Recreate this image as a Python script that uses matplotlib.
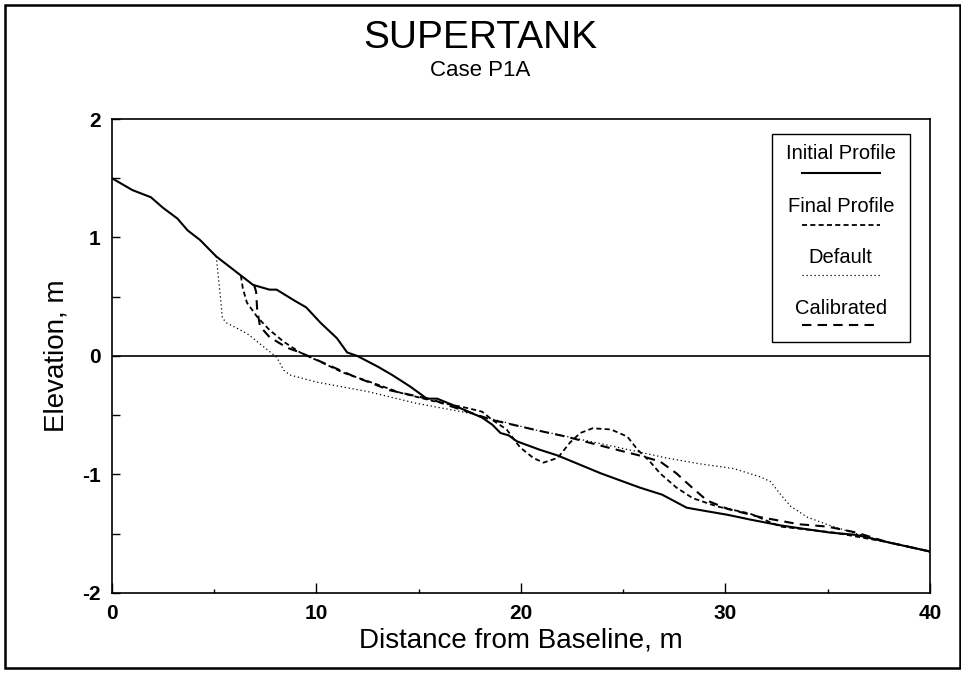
import matplotlib
matplotlib.use("Agg")
import matplotlib.pyplot as plt
from matplotlib.patches import Rectangle
from matplotlib.lines import Line2D

plt.rcParams['font.family'] = ['Liberation Sans', 'DejaVu Sans']
plt.rcParams['axes.unicode_minus'] = False

# Profiles (distance m, elevation m)
init_x = [0, 1.0, 1.9, 2.5, 3.2, 3.7, 4.3, 5.1, 6.3, 6.9, 7.7, 8.05, 8.9, 9.5, 10.2, 11.0,
          11.5, 12.0, 13.0, 13.7, 14.6, 15.4, 15.9, 16.9, 18.1, 18.6, 19.0, 19.4, 19.8,
          20.9, 21.8, 22.5, 23.9, 25.8, 26.9, 28.1, 28.75, 30.1, 31.2, 32.7, 35.1, 36.4,
          37.9, 40]
init_y = [1.50, 1.40, 1.34, 1.25, 1.16, 1.06, 0.98, 0.84, 0.68, 0.60, 0.56, 0.56, 0.47,
          0.41, 0.28, 0.15, 0.03, 0.0, -0.09, -0.16, -0.26, -0.36, -0.36, -0.43, -0.52,
          -0.58, -0.65, -0.67, -0.72, -0.79, -0.84, -0.89, -0.99, -1.11, -1.17, -1.28,
          -1.30, -1.34, -1.38, -1.43, -1.49, -1.51, -1.57, -1.65]

final_x = [6.3, 6.4, 6.6, 7.1, 7.7, 8.4, 9.2, 10.2, 11.3, 12.8, 14.1, 15.7, 17.4, 18.1,
           18.6, 19.3, 19.95, 20.6, 21.1, 21.8, 22.4, 22.9, 23.5, 24.4, 25.2, 25.7, 26.3,
           26.8, 27.6, 28.4, 29.6, 31.2, 32.7, 35.3, 37.9, 40]
final_y = [0.68, 0.57, 0.45, 0.33, 0.22, 0.12, 0.03, -0.05, -0.14, -0.23, -0.31, -0.38,
           -0.44, -0.47, -0.54, -0.62, -0.77, -0.86, -0.90, -0.86, -0.73, -0.65, -0.61,
           -0.62, -0.68, -0.79, -0.89, -0.99, -1.11, -1.20, -1.27, -1.33, -1.44, -1.49,
           -1.57, -1.65]

default_x = [5.1, 5.3, 5.4, 5.6, 6.6, 7.4, 8.05, 8.4, 8.7, 10.0, 12.5, 14.9, 17.4, 20.6,
             23.9, 27.1, 28.75, 30.4, 31.7, 32.2, 32.7, 33.2, 34.0, 35.1, 36.2, 37.9, 40]
default_y = [0.84, 0.50, 0.32, 0.28, 0.19, 0.08, -0.01, -0.12, -0.16, -0.22, -0.30, -0.40,
             -0.48, -0.62, -0.74, -0.86, -0.91, -0.95, -1.02, -1.06, -1.17, -1.27, -1.36,
             -1.43, -1.49, -1.57, -1.65]

calib_x = [6.95, 7.05, 7.1, 7.24, 7.7, 8.56, 9.2, 10.5, 11.8, 13.6, 15.7, 16.5, 18.6,
           20.6, 22.2, 24.2, 25.8, 26.8, 27.6, 28.3, 29.1, 30.1, 31.7, 33.6, 35.0, 36.4,
           37.9, 40]
calib_y = [0.60, 0.54, 0.39, 0.25, 0.16, 0.07, 0.03, -0.07, -0.17, -0.29, -0.37, -0.42,
           -0.54, -0.62, -0.68, -0.77, -0.84, -0.89, -0.99, -1.10, -1.22, -1.29, -1.36,
           -1.42, -1.44, -1.49, -1.57, -1.65]

labels = ['Initial Profile', 'Final Profile', 'Default', 'Calibrated']
styles = ['-', (0, (2.8, 1.8)), (0, (1, 2.2)), (0, (4.5, 3.0))]
widths = [1.5, 1.3, 0.9, 1.5]

fig = plt.figure(figsize=(9.62, 6.75), dpi=100)
ax = fig.add_axes([0.1164, 0.1215, 0.8503, 0.7022])

series = [(init_x, init_y), (final_x, final_y), (default_x, default_y), (calib_x, calib_y)]
for (xs, ys), ls, lw in zip(series, styles, widths):
    ax.plot(xs, ys, color='black', linestyle=ls, linewidth=lw)

ax.axhline(0, color='black', linewidth=1.2)

ax.set_xlim(0, 40)
ax.set_ylim(-2, 2)
ax.set_xticks([0, 10, 20, 30, 40])
ax.set_xticks([5, 15, 25, 35], minor=True)
ax.set_yticks([-2, -1, 0, 1, 2])
ax.set_yticks([-1.5, -0.5, 0.5, 1.5], minor=True)
ax.tick_params(which='both', direction='in', top=False, right=False, width=1.0,
               labelsize=15)
ax.tick_params(axis='x', which='major', length=7, pad=8)
ax.tick_params(axis='x', which='minor', length=3)
ax.tick_params(axis='y', which='major', length=6, pad=8)
ax.tick_params(axis='y', which='minor', length=6)
for lbl in ax.get_xticklabels() + ax.get_yticklabels():
    lbl.set_fontweight('bold')
for s in ax.spines.values():
    s.set_linewidth(1.2)

ax.set_xlabel('Distance from Baseline, m', fontsize=20, labelpad=3)
ax.set_ylabel('Elevation, m', fontsize=20, labelpad=9)

# Legend box: label above sample line
ax.add_patch(Rectangle((0.807, 0.5295), 0.1686, 0.4385, transform=ax.transAxes,
                       facecolor='white', edgecolor='black', linewidth=1.0, zorder=5))
text_y = [0.928, 0.816, 0.707, 0.601]
line_y = [0.886, 0.776, 0.671, 0.565]
for lab, ls, lw, ty, ly in zip(labels, styles, widths, text_y, line_y):
    ax.text(0.891, ty, lab, transform=ax.transAxes, ha='center', va='center',
            fontsize=14.5, zorder=6)
    ax.add_line(Line2D([0.843, 0.939], [ly, ly], transform=ax.transAxes, color='black',
                       linestyle=ls, linewidth=lw, zorder=6))

fig.text(0.499, 0.944, 'SUPERTANK', ha='center', va='center', fontsize=28)
fig.text(0.499, 0.896, 'Case P1A', ha='center', va='center', fontsize=16)

fig.patches.append(Rectangle((0.005, 0.010), 0.993, 0.983, transform=fig.transFigure,
                             fill=False, edgecolor='black', linewidth=1.8))

fig.savefig('out.png', dpi=100)
